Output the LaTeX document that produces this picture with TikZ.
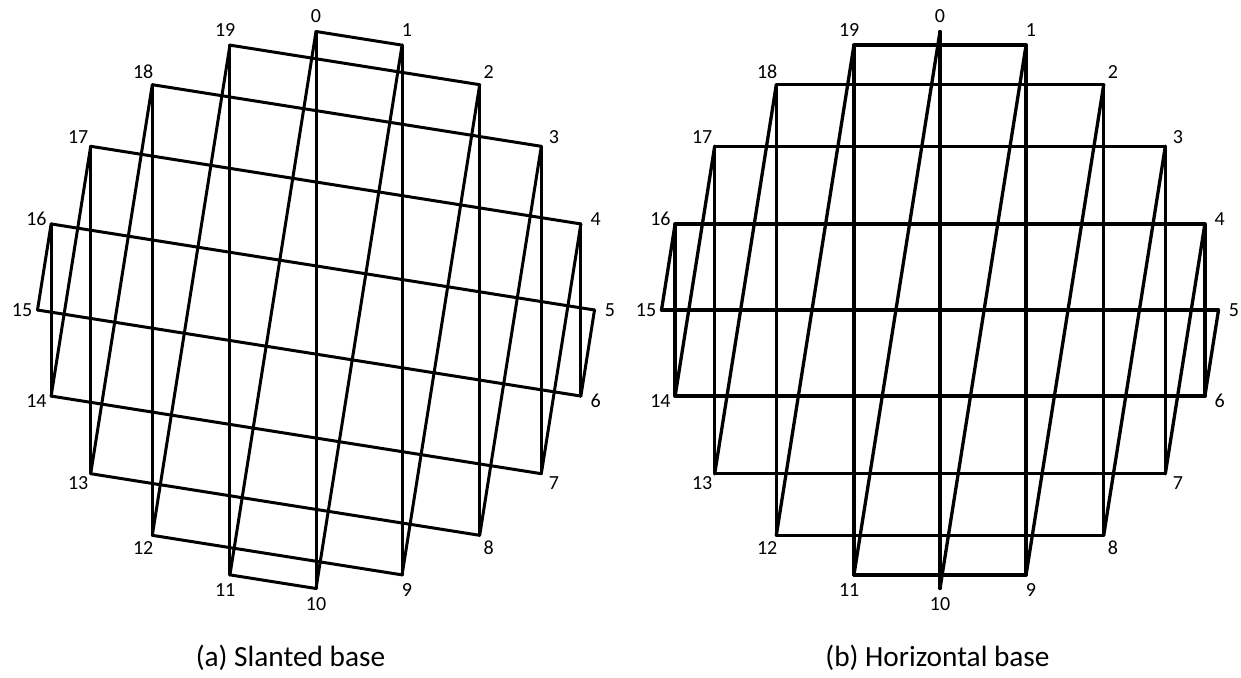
\documentclass[tikz,border=0pt]{standalone}
\usepackage{fontspec}
\setmainfont{Carlito}
\begin{document}
\begin{tikzpicture}[x=1pt,y=-1pt,
  edgeA/.style={line width=3pt,line cap=round,line join=round},
  edgeB/.style={line width=3.3pt,line cap=round,line join=round},
  lbl/.style={inner sep=0pt,font=\fontsize{20}{24}\selectfont},
  captext/.style={inner sep=0pt,anchor=base,font=\fontsize{29.3}{34}\selectfont}]
\useasboundingbox (0,0) rectangle (1241,677);
% panel (a)
\foreach \k in {0,...,19}{
  \coordinate (a\k) at ({316+278.5*sin(18*\k)},{310-278.5*cos(18*\k)});
  \node[lbl] (la\k) at ({316+294*sin(18*\k)},{310-294*cos(18*\k)}) {\k};
}
\foreach \p/\q in {0/10,1/9,2/8,3/7,4/6,19/11,18/12,17/13,16/14,
  0/1,19/2,18/3,17/4,16/5,15/6,14/7,13/8,12/9,11/10,
  0/11,1/10,2/9,3/8,4/7,5/6,19/12,18/13,17/14,16/15}
  \draw[edgeA] (a\p) -- (a\q);
\node[captext] (capa) at (290.5,666) {(a) Slanted base};
% panel (b)
\foreach \k in {0,...,19}{
  \coordinate (b\k) at ({940+278.5*sin(18*\k)},{310-278.5*cos(18*\k)});
  \node[lbl] (lb\k) at ({940+294*sin(18*\k)},{310-294*cos(18*\k)}) {\k};
}
\foreach \p/\q in {0/10,1/9,2/8,3/7,4/6,19/11,18/12,17/13,16/14,
  19/1,18/2,17/3,16/4,15/5,14/6,13/7,12/8,11/9,
  0/11,1/10,2/9,3/8,4/7,5/6,19/12,18/13,17/14,16/15}
  \draw[edgeB] (b\p) -- (b\q);
\node[captext] (capb) at (937.5,666) {(b) Horizontal base};
\end{tikzpicture}
\end{document}
